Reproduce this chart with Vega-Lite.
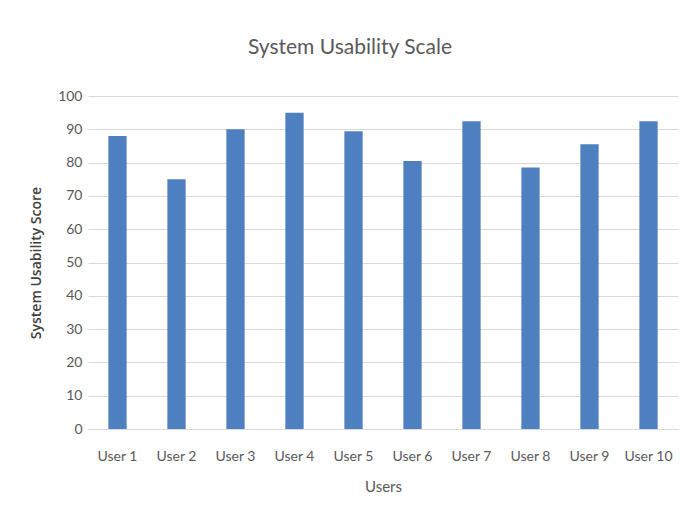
{
  "$schema": "https://vega.github.io/schema/vega-lite/v6.json",
  "autosize": "none",
  "width": 590,
  "height": 333,
  "padding": {"left": 88, "top": 96, "right": 15, "bottom": 91},
  "background": "white",
  "title": {
    "text": "System Usability Scale",
    "font": "Lato",
    "fontSize": 21,
    "fontWeight": "normal",
    "color": "#595959",
    "offset": 31,
    "dx": -33,
    "anchor": "middle"
  },
  "data": {
    "values": [
      {"user": "User 1", "score": 88},
      {"user": "User 2", "score": 75},
      {"user": "User 3", "score": 90},
      {"user": "User 4", "score": 95},
      {"user": "User 5", "score": 89.4},
      {"user": "User 6", "score": 80.5},
      {"user": "User 7", "score": 92.4},
      {"user": "User 8", "score": 78.5},
      {"user": "User 9", "score": 85.5},
      {"user": "User 10", "score": 92.4}
    ]
  },
  "mark": {"type": "bar", "color": "#4e80bf"},
  "encoding": {
    "x": {
      "field": "user",
      "type": "nominal",
      "sort": null,
      "scale": {"paddingInner": 0.69, "paddingOuter": 0.345},
      "axis": {
        "title": "Users",
        "labelAngle": 0,
        "ticks": false,
        "domainColor": "#d9d9d9",
        "labelPadding": 20,
        "titlePadding": 16,
        "labelFont": "Lato",
        "labelFontSize": 14,
        "labelColor": "#595959",
        "titleFont": "Lato",
        "titleFontSize": 15,
        "titleFontWeight": "normal",
        "titleColor": "#595959"
      }
    },
    "y": {
      "field": "score",
      "type": "quantitative",
      "scale": {"domain": [0, 100]},
      "axis": {
        "title": "System Usability Score",
        "values": [0, 10, 20, 30, 40, 50, 60, 70, 80, 90, 100],
        "domain": false,
        "ticks": false,
        "gridColor": "#d9d9d9",
        "labelPadding": 6,
        "titlePadding": 14,
        "labelFont": "Lato",
        "labelFontSize": 14,
        "labelColor": "#595959",
        "titleFont": "Open Sans",
        "titleFontSize": 14,
        "titleFontWeight": 600,
        "titleColor": "#404040"
      }
    }
  },
  "config": {"view": {"stroke": null}}
}
